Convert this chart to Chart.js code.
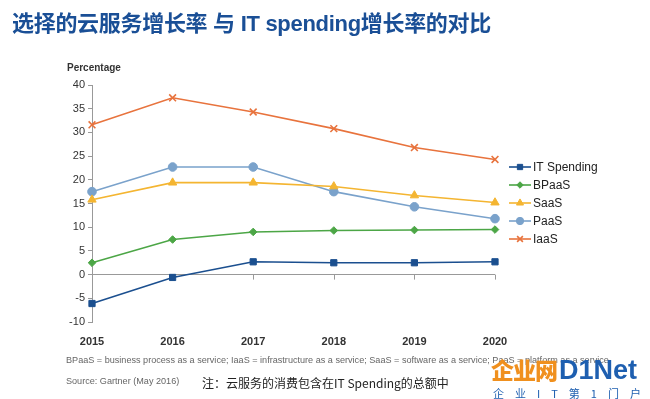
<!DOCTYPE html>
<html lang="zh">
  <head>
    <meta charset="UTF-8" />
    <title>Cloud services growth vs IT spending</title>
    <style>
      html, body { margin: 0; padding: 0; background: #fff; }
      body { width: 650px; height: 399px; position: relative; overflow: hidden;
             font-family: "Liberation Sans", Arial, sans-serif; }
      #chartBox { position: absolute; left: 0; top: 0; width: 650px; height: 399px; }
      .title { position: absolute; left: 12px; top: 5px; font-size: 22px; font-weight: bold;
               color: #1a4f96; font-family: "Liberation Sans", "Noto Sans CJK SC", sans-serif;
               white-space: nowrap; letter-spacing: -0.3px; }
      .ylabel { position: absolute; left: 67px; top: 62px; font-size: 10px; font-weight: bold; color: #333; }
      .foot { position: absolute; left: 66px; font-size: 9.1px; color: #666; white-space: nowrap; }
      .note { position: absolute; left: 202px; top: 374px; font-size: 12px; color: #222;
              font-family: "Noto Sans CJK SC", sans-serif; white-space: nowrap; }
      .logo { position: absolute; left: 491px; top: 357px; white-space: nowrap; line-height: 1; }
      .logo .cn { font-family: "Noto Sans CJK SC", sans-serif; font-weight: 900; font-size: 23px;
                  color: #f0901e; letter-spacing: -1px; }
      .logo .en { font-family: "Liberation Sans", sans-serif; font-weight: bold; font-size: 27px;
                  color: #1e5fb0; margin-left: 2px; }
      .logo .sub { position: absolute; left: 2px; top: 31px; font-size: 11px; color: #1e5fb0;
                   font-family: "Noto Sans CJK SC", sans-serif; letter-spacing: 11px; }
    </style>
  </head>
  <body>
    <div id="chartBox"><canvas id="myChart" width="650" height="399"></canvas></div>
    <div class="title">选择的云服务增长率 与 IT spending增长率的对比</div>
    <div class="ylabel">Percentage</div>
    <div class="foot" style="top:355px">BPaaS = business process as a service; IaaS = infrastructure as a service; SaaS = software as a service; PaaS = platform as a service</div>
    <div class="foot" style="top:376px">Source: Gartner (May 2016)</div>
    <div class="note">注：云服务的消费包含在IT Spending的总额中</div>
    <div class="logo"><span class="cn">企业网</span><span class="en">D1Net</span><div class="sub">企业IT第1门户</div></div>

    <script src="https://cdn.jsdelivr.net/npm/chart.js@4.4.0/dist/chart.umd.min.js"></script>
    <script>
      // data
      var years = ["2015", "2016", "2017", "2018", "2019", "2020"];
      var itSpending = [-6.1, -0.6, 2.7, 2.5, 2.5, 2.7];
      var bpaas = [2.5, 7.4, 9.0, 9.3, 9.4, 9.5];
      var saas = [15.8, 19.4, 19.4, 18.6, 16.7, 15.2];
      var paas = [17.5, 22.7, 22.7, 17.5, 14.3, 11.8];
      var iaas = [31.6, 37.3, 34.3, 30.8, 26.8, 24.3];
      var yTicks = [-10, -5, 0, 5, 10, 15, 20, 25, 30, 35, 40];

      function series(label, data, color, style, radius) {
        return {
          label: label,
          data: data,
          borderColor: color,
          backgroundColor: color,
          pointBackgroundColor: color,
          pointBorderColor: color,
          borderWidth: 1.6,
          pointStyle: style,
          pointRadius: radius,
          pointBorderWidth: style === "crossRot" ? 1.6 : 1,
          tension: 0,
          clip: false
        };
      }

      var datasets = [
        series("IT Spending", itSpending, "#1b4f8f", "rect", 4.4),
        series("BPaaS", bpaas, "#4ca646", "rectRot", 3.8),
        series("SaaS", saas, "#f4b531", "triangle", 4.8),
        series("PaaS", paas, "#7aa2cb", "circle", 4.3),
        series("IaaS", iaas, "#e8733d", "crossRot", 4.8)
      ];

      // small ticks hanging off the zero line
      var zeroTicks = {
        id: "zeroTicks",
        beforeDatasetsDraw: function (chart) {
          var ctx = chart.ctx, xs = chart.scales.x, ys = chart.scales.y;
          var y0 = ys.getPixelForValue(0);
          ctx.save();
          ctx.strokeStyle = "#999";
          ctx.lineWidth = 1;
          years.forEach(function (y, i) {
            var x = Math.round(xs.getPixelForValue(i)) + 0.5;
            ctx.beginPath();
            ctx.moveTo(x, y0);
            ctx.lineTo(x, y0 + 5);
            ctx.stroke();
          });
          ctx.restore();
        }
      };

      // legend with line + marker on the right
      var sideLegend = {
        id: "sideLegend",
        afterDraw: function (chart) {
          var ctx = chart.ctx;
          var x0 = 509, top = 167, step = 18;
          ctx.save();
          chart.data.datasets.forEach(function (ds, i) {
            var y = top + i * step;
            ctx.strokeStyle = ds.borderColor;
            ctx.lineWidth = 1.6;
            ctx.beginPath();
            ctx.moveTo(x0, y);
            ctx.lineTo(x0 + 22, y);
            ctx.stroke();
            ctx.fillStyle = ds.backgroundColor;
            ctx.lineWidth = ds.pointBorderWidth;
            Chart.helpers.drawPoint(ctx, {
              pointStyle: ds.pointStyle, radius: ds.pointRadius * 0.85, rotation: 0,
              borderWidth: ds.pointBorderWidth
            }, x0 + 11, y);
            ctx.fillStyle = "#222";
            ctx.font = "12px 'Liberation Sans', Arial, sans-serif";
            ctx.textBaseline = "middle";
            ctx.fillText(ds.label, x0 + 24, y + 0.5);
          });
          ctx.restore();
        }
      };

      new Chart(document.getElementById("myChart"), {
        type: "line",
        data: { labels: years, datasets: datasets },
        options: {
          responsive: false,
          animation: false,
          layout: { padding: { left: 58, right: 155, top: 85, bottom: 52 } },
          plugins: { legend: { display: false }, tooltip: { enabled: false } },
          scales: {
            x: {
              offset: false,
              afterFit: function (s) { s.height = 25; },
              border: { display: false },
              grid: { display: false },
              ticks: {
                padding: 5,
                color: "#333",
                font: { family: "'Liberation Sans', Arial", size: 11, weight: "bold" }
              }
            },
            y: {
              min: -10,
              max: 40,
              afterFit: function (s) { s.width = 34; },
              afterBuildTicks: function (s) {
                s.ticks = yTicks.map(function (v) { return { value: v }; });
              },
              border: { display: true, color: "#999", width: 1 },
              grid: {
                drawTicks: true,
                tickLength: 4,
                tickColor: "#999",
                color: function (c) { return c.tick && c.tick.value === 0 ? "#999" : "rgba(0,0,0,0)"; }
              },
              ticks: {
                padding: 3,
                color: "#333",
                font: { family: "'Liberation Sans', Arial", size: 11 }
              }
            }
          }
        },
        plugins: [zeroTicks, sideLegend]
      });
    </script>
  </body>
</html>
